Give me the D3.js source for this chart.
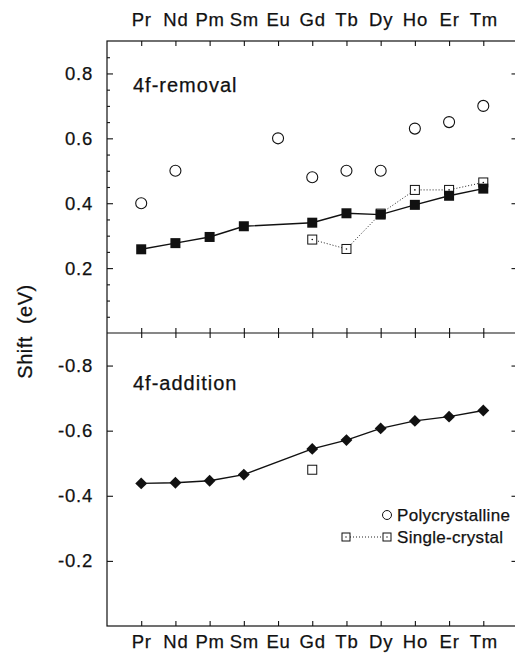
<!DOCTYPE html>
<html>
<head>
<meta charset="utf-8">
<script src="https://cdn.jsdelivr.net/npm/d3@7"></script>
<style>
  html, body { margin: 0; padding: 0; background: #fff; }
  text { font-family: 'Liberation Sans', Arial, Helvetica, sans-serif; fill: #111; stroke: #111; stroke-width: 0.25px; }
</style>
</head>
<body>
<script>
// rare earths along the x axis
const elements = ['Pr', 'Nd', 'Pm', 'Sm', 'Eu', 'Gd', 'Tb', 'Dy', 'Ho', 'Er', 'Tm']

// 4f-removal shifts (eV)
const polycrystalline = [0.40, 0.50, null, null, 0.60, 0.48, 0.50, 0.50, 0.63, 0.65, 0.70]
const removal = [0.258, 0.277, 0.296, 0.329, null, 0.340, 0.369, 0.365, 0.395, 0.423, 0.445]
const singleRemoval = [null, null, null, null, null, 0.288, 0.259, 0.368, 0.441, 0.441, 0.464]

// 4f-addition shifts (eV)
const addition = [-0.438, -0.440, -0.446, -0.465, null, -0.544, -0.571, -0.607, -0.630, -0.643, -0.662]
const singleAddition = [null, null, null, null, null, -0.480, null, null, null, null, null]

// tick values
const upperMajor = [0.2, 0.4, 0.6, 0.8]
const upperMinor = [0.05, 0.1, 0.15, 0.25, 0.3, 0.35, 0.45, 0.5, 0.55, 0.65, 0.7, 0.75, 0.85]
const lowerMajor = [-0.8, -0.6, -0.4, -0.2]

const width = 515
const height = 653
const mLeft = 107
const mRight = 517.5
const mTop = 41
const mMid = 333
const mBottom = 626

const svg = d3.select('body').append('svg')
  .attr('xmlns', 'http://www.w3.org/2000/svg')
  .attr('width', width)
  .attr('height', height)

const x = d3.scaleLinear().domain([-1, 11]).range([mLeft, mRight])
const yU = d3.scaleLinear().domain([0, 0.9]).range([mMid, mTop])
const yL = d3.scaleLinear().domain([-0.9, 0]).range([mMid, mBottom])

const idx = elements.map((d, i) => i)
const pts = arr => arr.map((v, i) => ({ i, v })).filter(d => d.v != null)

const styleAxis = (g, size) => {
  g.select('.domain').remove()
  g.selectAll('line').attr('stroke', '#111').attr('stroke-width', 1.1)
  g.selectAll('text')
    .attr('font-family', "'Liberation Sans', Arial, sans-serif")
    .attr('font-size', size)
    .attr('letter-spacing', 0.8)
    .attr('fill', '#111')
}

// x axes: labels top and bottom, inward ticks on every panel edge
svg.append('g').attr('transform', `translate(0,${mTop})`)
  .call(d3.axisTop(x).tickValues(idx).tickFormat(i => elements[i]).tickSize(-5).tickPadding(15))
  .call(g => styleAxis(g, 18.5))
svg.append('g').attr('transform', `translate(0,${mMid})`)
  .call(d3.axisBottom(x).tickValues(idx).tickFormat('').tickSize(-5))
  .call(g => styleAxis(g, 18.5))
svg.append('g').attr('transform', `translate(0,${mMid})`)
  .call(d3.axisTop(x).tickValues(idx).tickFormat('').tickSize(-5))
  .call(g => styleAxis(g, 18.5))
svg.append('g').attr('transform', `translate(0,${mBottom})`)
  .call(d3.axisBottom(x).tickValues(idx).tickFormat(i => elements[i]).tickSize(-5).tickPadding(9))
  .call(g => styleAxis(g, 18.5))

// y axes
svg.append('g').attr('transform', `translate(${mLeft},0)`)
  .call(d3.axisLeft(yU).tickValues(upperMajor).tickFormat(d => d.toFixed(1)).tickSize(-6).tickPadding(14))
  .call(g => styleAxis(g, 18.5))
svg.append('g').attr('transform', `translate(${mLeft},0)`)
  .call(d3.axisLeft(yU).tickValues(upperMinor).tickFormat('').tickSize(-3))
  .call(g => styleAxis(g, 18.5))
svg.append('g').attr('transform', `translate(${mRight},0)`)
  .call(d3.axisRight(yU).tickValues(upperMajor).tickFormat('').tickSize(-6))
  .call(g => styleAxis(g, 18.5))
svg.append('g').attr('transform', `translate(${mLeft},0)`)
  .call(d3.axisLeft(yL).tickValues(lowerMajor).tickFormat(d => d.toFixed(1)).tickSize(-6).tickPadding(14))
  .call(g => styleAxis(g, 18.5))
svg.append('g').attr('transform', `translate(${mRight},0)`)
  .call(d3.axisRight(yL).tickValues(lowerMajor).tickFormat('').tickSize(-6))
  .call(g => styleAxis(g, 18.5))

// frame and divider
svg.append('rect')
  .attr('x', mLeft).attr('y', mTop)
  .attr('width', mRight - mLeft).attr('height', mBottom - mTop)
  .attr('fill', 'none').attr('stroke', '#111').attr('stroke-width', 1.2)
svg.append('line')
  .attr('x1', mLeft).attr('x2', mRight)
  .attr('y1', mMid).attr('y2', mMid)
  .attr('stroke', '#111').attr('stroke-width', 1.2)

// y title
svg.append('text')
  .attr('transform', `translate(32,${(mTop + mBottom) / 2 - 2}) rotate(-90)`)
  .attr('text-anchor', 'middle')
  .attr('font-size', 20)
  .attr('letter-spacing', 0.5)
  .style('white-space', 'pre')
  .text('Shift  (eV)')

// panel titles
svg.append('text').attr('x', 133).attr('y', 92)
  .attr('font-size', 20).attr('letter-spacing', 1).text('4f-removal')
svg.append('text').attr('x', 133).attr('y', 390)
  .attr('font-size', 20).attr('letter-spacing', 1).text('4f-addition')

const solid = (arr, y) => d3.line().x(d => x(d.i)).y(d => y(d.v))(pts(arr))

// open squares for the single-crystal data
const openSquares = (data, y, withDot) => {
  const g = svg.append('g')
  g.selectAll('rect')
    .data(data)
    .join('rect')
    .attr('x', d => x(d.i) - 4.5)
    .attr('y', d => y(d.v) - 4.5)
    .attr('width', 9).attr('height', 9)
    .attr('fill', '#fff').attr('stroke', '#111').attr('stroke-width', 1)
  if (withDot) {
    g.selectAll('circle')
      .data(data)
      .join('circle')
      .attr('cx', d => x(d.i)).attr('cy', d => y(d.v))
      .attr('r', 0.8).attr('fill', '#111')
  }
}

svg.append('path')
  .attr('d', solid(singleRemoval, yU))
  .attr('fill', 'none').attr('stroke', '#222').attr('stroke-width', 1)
  .attr('stroke-dasharray', '1,2')
openSquares(pts(singleRemoval), yU, true)

// 4f-removal filled squares
svg.append('path')
  .attr('d', solid(removal, yU))
  .attr('fill', 'none').attr('stroke', '#111').attr('stroke-width', 1.4)
svg.append('g').selectAll('rect')
  .data(pts(removal))
  .join('rect')
  .attr('x', d => x(d.i) - 5)
  .attr('y', d => yU(d.v) - 5)
  .attr('width', 10).attr('height', 10)
  .attr('fill', '#111')

// polycrystalline circles
svg.append('g').selectAll('circle')
  .data(pts(polycrystalline))
  .join('circle')
  .attr('cx', d => x(d.i)).attr('cy', d => yU(d.v))
  .attr('r', 5.5)
  .attr('fill', 'none').attr('stroke', '#111').attr('stroke-width', 1.1)

// 4f-addition diamonds
svg.append('path')
  .attr('d', solid(addition, yL))
  .attr('fill', 'none').attr('stroke', '#111').attr('stroke-width', 1.4)
svg.append('g').selectAll('path')
  .data(pts(addition))
  .join('path')
  .attr('d', d3.symbol(d3.symbolDiamond2, 90))
  .attr('transform', d => `translate(${x(d.i)},${yL(d.v)})`)
  .attr('fill', '#111')
openSquares(pts(singleAddition), yL, false)

// legend
const legend = svg.append('g')
legend.append('circle').attr('cx', 387).attr('cy', 515).attr('r', 4.5)
  .attr('fill', 'none').attr('stroke', '#111').attr('stroke-width', 1)
legend.append('text').attr('x', 397).attr('y', 521)
  .attr('font-size', 17).attr('letter-spacing', 0.3).text('Polycrystalline')
legend.append('line').attr('x1', 350).attr('x2', 383).attr('y1', 537).attr('y2', 537)
  .attr('stroke', '#222').attr('stroke-width', 1).attr('stroke-dasharray', '1,2')
;[346, 387].forEach(cx => {
  legend.append('rect').attr('x', cx - 4).attr('y', 533).attr('width', 8).attr('height', 8)
    .attr('fill', '#fff').attr('stroke', '#111').attr('stroke-width', 1)
  legend.append('circle').attr('cx', cx).attr('cy', 537).attr('r', 0.7).attr('fill', '#111')
})
legend.append('text').attr('x', 397).attr('y', 543)
  .attr('font-size', 17).attr('letter-spacing', 0.3).text('Single-crystal')
</script>
</body>
</html>
